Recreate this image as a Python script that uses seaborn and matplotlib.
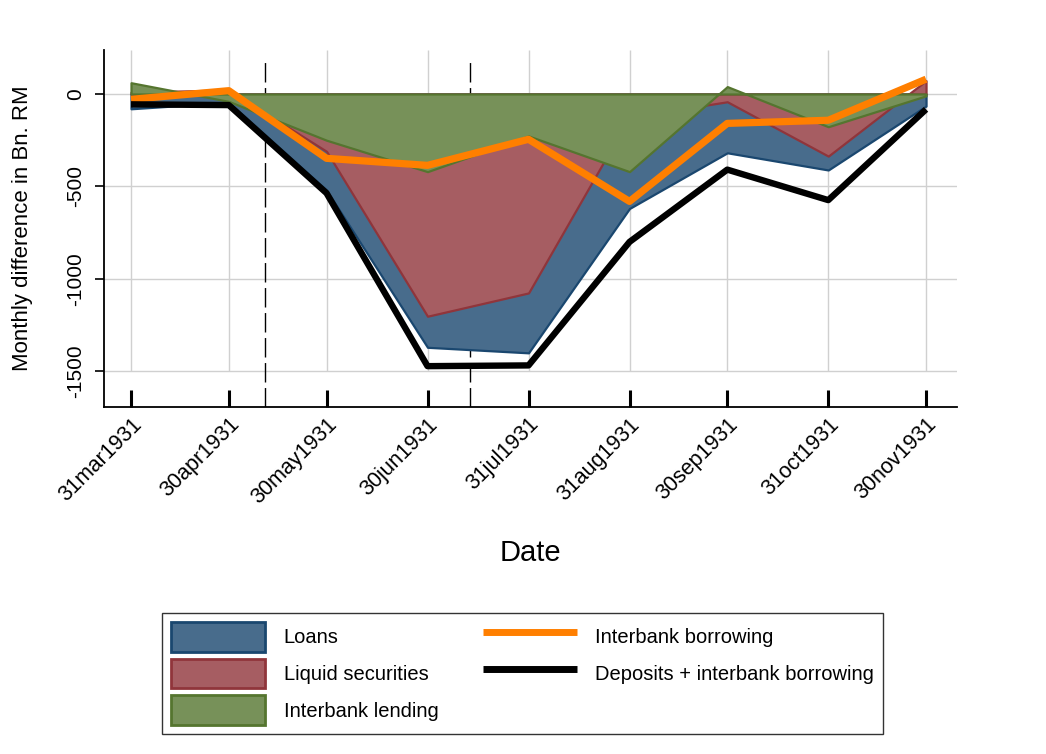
import matplotlib
matplotlib.use("Agg")
import matplotlib.pyplot as plt
from matplotlib.patches import Patch
from matplotlib.lines import Line2D
import numpy as np
import pandas as pd
import seaborn as sns

sns.set_theme(style="white")
plt.rcParams['font.family'] = ['Liberation Sans', 'DejaVu Sans']

# data (Bn. RM, monthly differences)
dates = pd.to_datetime(["1931-03-31", "1931-04-30", "1931-05-30", "1931-06-30", "1931-07-31",
                        "1931-08-31", "1931-09-30", "1931-10-31", "1931-11-30"])
tick_labels = ["31mar1931", "30apr1931", "30may1931", "30jun1931", "31jul1931",
               "31aug1931", "30sep1931", "31oct1931", "30nov1931"]
loans = [-80, -45, -520, -1370, -1400, -619, -318, -411, -65]
liquid_securities = [10, 22, -310, -1202, -1076, -125, -42, -336, 72]
interbank_lending = [61, -40, -250, -420, -227, -420, 40, -177, -10]
interbank_borrowing = [-29, 18, -348, -386, -245, -581, -159, -142, 80]
deposits_borrowing = [-56, -60, -536, -1472, -1468, -800, -409, -574, -83]
events = pd.to_datetime(["1931-05-11", "1931-07-13"])  # Creditanstalt, Danatbank
yticks = [0, -500, -1000, -1500]

navy, navy_f = "#1a476f", "#486c8c"
maroon, maroon_f = "#90353b", "#a65d62"
green, green_f = "#55752f", "#779159"
orange = "#ff7f00"

fig = plt.figure(figsize=(10.46, 7.54), dpi=100)
ax = fig.add_axes([0.0994, 0.4602, 0.8155, 0.4735])

areas = [(loans, navy_f, navy, "Loans"),
         (liquid_securities, maroon_f, maroon, "Liquid securities"),
         (interbank_lending, green_f, green, "Interbank lending")]
for vals, face, edge, name in areas:
    ax.fill_between(dates, 0, vals, facecolor=face, edgecolor=edge, lw=1.6, zorder=2)

df = pd.DataFrame({"date": dates, "ib": interbank_borrowing, "dep": deposits_borrowing})
sns.lineplot(data=df, x="date", y="ib", color=orange, lw=5.2, ax=ax, zorder=3,
             solid_capstyle="butt")
sns.lineplot(data=df, x="date", y="dep", color="black", lw=4.6, ax=ax, zorder=4,
             solid_capstyle="butt")

ylo, yhi = -1693, 238
ax.set_ylim(ylo, yhi)
ax.set_xlim(dates[0] - pd.Timedelta(days=8.3), dates[-1] + pd.Timedelta(days=9.5))

# grid: horizontal across, vertical only down to the last y gridline (Stata look)
ax.set_yticks(yticks)
ax.set_yticklabels([str(v) for v in yticks], rotation=90, va="center", fontsize=15)
ax.yaxis.grid(True, color="#d0d0d0", lw=1)
ax.set_axisbelow(True)
ax.vlines(dates, yticks[-1], yhi, color="#d0d0d0", lw=1, zorder=0)

ax.vlines(events, ylo, 200, colors="black", lw=1, linestyles=(0, (14, 4)), zorder=1)

ax.set_xticks(dates)
ax.set_xticklabels(tick_labels, rotation=45, ha="right", va="top",
                   rotation_mode="anchor", fontsize=15.5)
ax.tick_params(axis="x", direction="in", length=12, width=2.2, pad=5, colors="black",
               bottom=True)
ax.tick_params(axis="y", direction="out", length=6.5, width=1.2, pad=7, colors="black",
               left=True)

for s in ["top", "right"]:
    ax.spines[s].set_visible(False)
for s in ["left", "bottom"]:
    ax.spines[s].set_color("black")
    ax.spines[s].set_linewidth(1.3)

ax.set_xlabel("Date", fontsize=21, labelpad=22, color="black")
ax.set_ylabel("Monthly difference in Bn. RM", fontsize=16, color="black")
ax.yaxis.set_label_coords(-0.083, 0.5)

handles = [Patch(facecolor=f, edgecolor=e, lw=2) for _, f, e, _ in areas]
handles += [Line2D([], [], color=orange, lw=5, solid_capstyle="butt"),
            Line2D([], [], color="black", lw=5, solid_capstyle="butt")]
labels = [a[3] for a in areas] + ["Interbank borrowing", "Deposits + interbank borrowing"]
leg = fig.legend(handles, labels, loc="center", bbox_to_anchor=(0.4995, 0.1068), ncol=2,
                 frameon=True, fancybox=False, edgecolor="black", fontsize=14.5,
                 handlelength=4.7, handleheight=1.9, handletextpad=0.9,
                 columnspacing=2.2, labelspacing=0.35, borderpad=0.45)
leg.get_frame().set_linewidth(1)
for t in leg.get_texts():
    t.set_color("black")

fig.savefig("out.png", dpi=100)
